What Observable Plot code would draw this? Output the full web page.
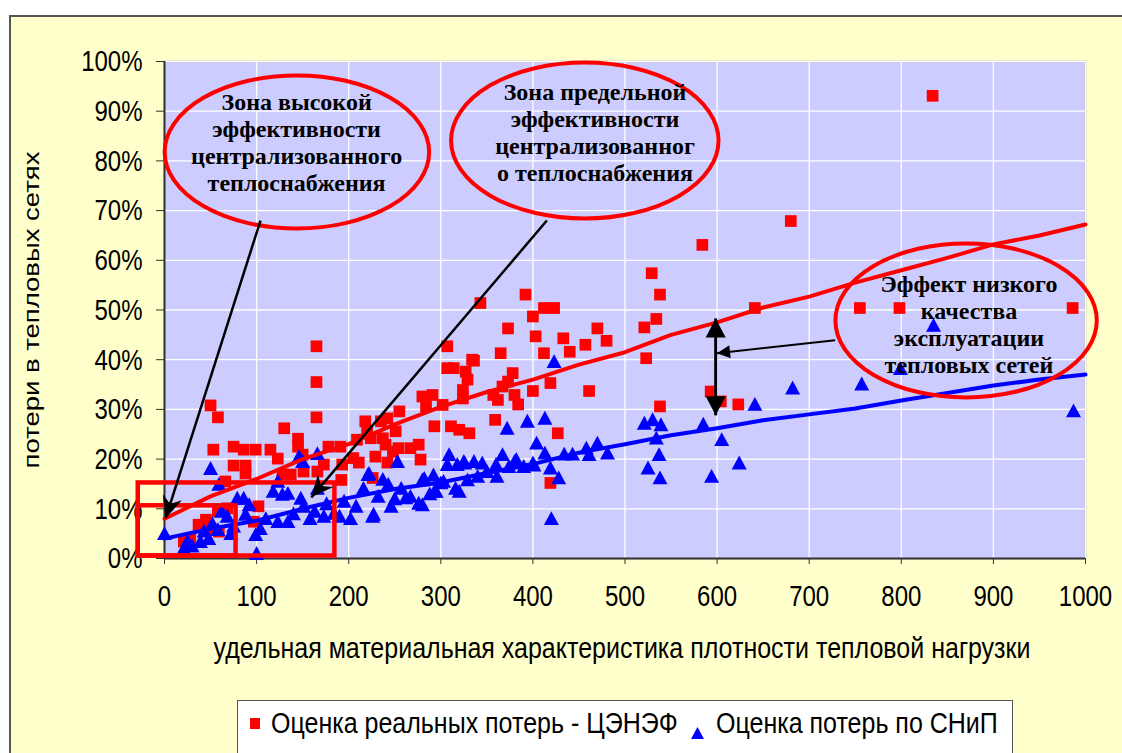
<!DOCTYPE html>
<html><head><meta charset="utf-8">
<script src="https://cdn.jsdelivr.net/npm/d3@7"></script>
<script src="https://cdn.jsdelivr.net/npm/@observablehq/plot@0.6"></script>
<style>
body{margin:0;background:#fff;width:1122px;height:753px;overflow:hidden;position:relative;font-family:"Liberation Sans",Arial,sans-serif;}
#frame{position:absolute;left:9px;top:15px;width:1130px;height:760px;background:#FFFFCC;border:2px solid #555;box-sizing:border-box;}
#chart{position:absolute;left:0;top:0;}
#ytitle{position:absolute;left:32px;top:310px;transform:translate(-50%,-50%) rotate(-90deg) scaleX(1.25);font-size:22px;white-space:nowrap;}
#xtitle{position:absolute;left:622px;top:648px;transform:translate(-50%,-50%) scaleY(1.2);font-size:25px;white-space:nowrap;}
#legend{position:absolute;left:237px;top:700px;width:776px;height:60px;background:#fff;border:1px solid #555;box-sizing:border-box;font-size:25px;}
#legend span{position:absolute;white-space:nowrap;}
#legend span.t{transform:scaleY(1.2);transform-origin:0 50%;}
</style></head>
<body>
<div id="frame"></div>
<div id="chart"></div>
<div id="ytitle"></div>
<div id="xtitle"></div>
<div id="legend">
  <span style="left:12px;top:17px;width:10px;height:11px;background:#f00"></span>
  <span class="t" id="lt1" style="left:33px;top:7px"></span>
  <span style="left:453px;top:16px"><svg width="13" height="13"><polygon points="6.5,0 13,12 0,12" fill="#00f"/></svg></span>
  <span class="t" id="lt2" style="left:478px;top:7px"></span>
</div>
<script>
// ---- data ----
const xTicks = [0,100,200,300,400,500,600,700,800,900,1000];
const yTicks = [0,10,20,30,40,50,60,70,80,90,100];

const realPoints = [
 [21,3.4],[28,4.0],[37,6.8],[45,7.8],[50,6.0],[59,5.4],[68,10.1],[97,7.4],[102,10.5],[58,9.5],
 [66,15.5],[75,18.7],[88,18.7],[88,17.1],[53,21.9],[75,22.5],[86,21.9],[99,21.9],[115,21.9],[123,20.1],
 [50,30.8],[58,28.4],[130,26.2],[145,24.1],[145,22.5],[150,20.9],[128,16.9],[137,16.9],[151,17.5],[166,17.5],
 [173,18.9],[165,42.7],[165,35.5],[165,28.4],[178,22.5],[191,22.5],[193,18.9],[192,15.8],
 [205,20.2],[209,23.9],[218,27.6],[224,24.2],[229,20.5],[235,27.6],[237,24.2],[240,22.9],[242,28.2],[251,25.6],
 [254,22.2],[255,29.6],[267,22.2],[276,22.9],[278,19.9],[226,16.2],[211,19.3],[220,25.7],[248,21.5],[242,19.3],
 [280,32.6],[291,32.9],[284,30.6],[293,26.6],
 [302,30.9],[311,26.6],[320,25.9],[331,25.2],[307,42.7],[307,38.3],[314,38.3],[334,40.0],[327,37.6],[329,36.0],
 [324,33.9],[324,32.2],[343,51.4],[336,39.8],[359,27.9],[365,41.3],[367,34.6],[373,35.6],[373,46.3],[378,37.3],
 [357,32.9],[362,31.9],[380,32.9],[384,31.0],[392,53.1],
 [400,48.7],[412,50.4],[423,50.4],[403,44.7],[412,41.3],[400,33.7],[419,35.3],[427,25.2],[419,15.2],[433,44.3],
 [440,41.6],[457,43.0],[461,33.7],[470,46.3],[480,43.8],[521,46.5],[523,40.3],[529,57.4],[534,48.2],[538,53.1],
 [538,30.6],[584,63.1],[593,33.6],[604,31.6],[623,31.0],[641,50.4],[680,67.9],[755,50.4],[798,50.4],[834,93.1],
 [986,50.4]
];

const snipPoints = [
 [0,5.0],[21,2.0],[25,3.5],[30,2.5],[39,3.4],[43,5.5],[48,4.0],[52,7.0],[50,18.1],[59,14.9],
 [58,5.8],[62,9.5],[68,8.5],[72,5.0],[75,6.5],[79,12.1],[86,12.1],[88,8.9],[92,10.8],[99,4.8],
 [100,1.0],[104,6.0],[110,8.0],
 [118,13.5],[123,15.5],[128,12.9],[134,13.1],[123,7.4],[134,7.4],[140,9.0],[148,12.1],[150,19.5],[146,20.5],
 [151,10.5],[158,8.0],[166,21.1],[166,14.1],[163,9.5],[173,8.5],[176,11.0],[184,9.1],[195,11.5],[190,8.5],[202,8.0],
 [208,10.5],[216,14.1],[221,16.9],[222,17.1],[227,8.9],[226,8.5],[237,15.9],[232,12.5],[243,14.9],[246,10.5],
 [253,19.5],[257,14.1],[250,12.0],[262,12.2],[267,12.5],[276,11.1],[280,15.8],[280,10.8],[282,16.1],[288,13.0],
 [292,16.8],[293,13.5],[295,13.5],
 [300,15.2],[303,15.5],[307,18.9],[309,20.9],[316,14.1],[318,18.9],[320,13.5],[325,19.5],[326,19.2],[329,15.8],
 [336,19.5],[340,16.5],[345,19.2],[350,17.5],[360,18.9],[361,16.5],[367,20.9],[372,26.2],[374,18.5],[382,19.9],
 [380,19.5],[394,27.6],[390,18.5],[400,19.2],
 [401,18.8],[404,23.2],[413,28.2],[413,21.2],[419,18.2],[420,8.0],[423,39.6],[428,16.2],[434,21.0],[443,21.0],
 [458,22.2],[461,20.9],[470,23.2],[481,21.2],
 [521,27.2],[530,27.9],[539,26.9],[534,24.2],[537,20.9],[525,18.2],[538,16.2],[585,27.0],[594,16.5],[605,23.9],
 [624,19.2],[641,31.0],[682,34.3],[757,35.1],[799,38.2],[835,46.9],[987,29.7]
];

const trendX    = [0,50,100,150,200,250,300,350,400,450,500,550,600,650,700,750,800,850,900,950,1000];
const trendReal = [8,12.5,16,20,23,27,30.5,33.5,36,39,41.5,45,47.5,50.5,52.7,55.5,58,60.5,63.2,65,67.2];
const trendSnip = [4,6,7.6,10,12.2,14,15.3,17.2,19,21.3,23,24.8,26.2,27.8,29,30.2,31.8,33.3,34.8,36,37];

const seriesNames = ["Оценка реальных потерь - ЦЭНЭФ","Оценка потерь по СНиП"];
const yTitle = "потери в тепловых сетях";
const xTitle = "удельная материальная характеристика плотности тепловой нагрузки";

// annotation texts
const zone1Lines = ["Зона высокой","эффективности","централизованного","теплоснабжения"];
const zone2Lines = ["Зона предельной","эффективности","централизованног","о теплоснабжения"];
const zone3Lines = ["Эффект низкого","качества","эксплуатации","тепловых сетей"];

document.getElementById("ytitle").textContent = yTitle;
document.getElementById("xtitle").textContent = xTitle;
document.getElementById("lt1").textContent = seriesNames[0];
document.getElementById("lt2").textContent = seriesNames[1];

// custom triangle, about as wide as tall like the spreadsheet marker
const triSymbol = {draw(ctx, size){ const h = Math.sqrt(size/Math.PI); ctx.moveTo(0,-h); ctx.lineTo(h,h*0.85); ctx.lineTo(-h,h*0.85); ctx.closePath(); }};

// ---- chart ----
const trend = trendX.map((x,i)=>({x, real:trendReal[i], snip:trendSnip[i]}));
const plot = Plot.plot({
  width:1122, height:620,
  marginLeft:164, marginRight:37, marginTop:61, marginBottom:62,
  style:{background:"transparent", fontFamily:"'Liberation Sans', Arial, sans-serif", fontSize:"24px", overflow:"visible", color:"#000"},
  x:{domain:[0,1000]},
  y:{domain:[0,100]},
  marks:[
    Plot.frame({fill:"#CCCCFF", stroke:"#8a8a8a", strokeWidth:1.5}),
    Plot.gridX(xTicks,{stroke:"#fff", strokeOpacity:1, strokeWidth:1.3}),
    Plot.gridY(yTicks,{stroke:"#fff", strokeOpacity:1, strokeWidth:1.3}),
    Plot.axisX(xTicks,{tickSize:6, tickPadding:19, fontSize:24, label:null, stroke:"#333", tickFormat:d=>String(d)}),
    Plot.axisY(yTicks,{tickSize:8, tickPadding:14, fontSize:24, label:null, stroke:"#333", tickFormat:d=>d+"%"}),
    Plot.ruleX([0],{stroke:"#333", strokeWidth:2}),
    Plot.ruleY([0],{stroke:"#333", strokeWidth:2}),
    Plot.dot(realPoints,{x:d=>d[0], y:d=>d[1], symbol:"square", r:6.6, fill:"#ff0000", stroke:null}),
    Plot.dot(snipPoints,{x:d=>d[0], y:d=>d[1], symbol:triSymbol, r:7.5, fill:"#0000ff", stroke:null}),
    Plot.line(trend,{x:"x", y:"real", stroke:"#ff0000", strokeWidth:4}),
    Plot.line(trend,{x:"x", y:"snip", stroke:"#0000ff", strokeWidth:4})
  ]
});
document.getElementById("chart").appendChild(plot);

// stretch tick labels vertically like the original (about each label's own anchor)
d3.select(plot).selectAll('g[aria-label="x-axis tick label"] text').each(function(){
  const bb = this.getBBox(); const ax = bb.x + bb.width/2, ay = bb.y;
  const tr = this.getAttribute("transform") || "";
  this.setAttribute("transform", `${tr} translate(${ax},${ay}) scale(1,1.25) translate(${-ax},${-ay})`);
});
d3.select(plot).selectAll('g[aria-label="y-axis tick label"] text').each(function(){
  const bb = this.getBBox(); const ax = bb.x + bb.width, ay = bb.y + bb.height/2;
  const tr = this.getAttribute("transform") || "";
  this.setAttribute("transform", `${tr} translate(${ax},${ay}) scale(1,1.25) translate(${-ax},${-ay})`);
});

// ---- annotations through the plot's scales ----
const sx = plot.scale("x"), sy = plot.scale("y");
const X = v => sx.apply(v), Y = p => sy.apply(p);
const svg = d3.select(plot);
const defs = svg.append("defs");
function marker(id, path, vb){
  defs.append("marker").attr("id",id).attr("markerUnits","userSpaceOnUse")
    .attr("viewBox",vb).attr("markerWidth",+vb.split(" ")[2]).attr("markerHeight",+vb.split(" ")[3])
    .attr("refX",0).attr("refY",0).attr("orient","auto-start-reverse")
    .append("path").attr("d",path).attr("fill","#000");
}
marker("barb","M0,0L-22,-10L-15,0L-22,10Z","-24 -12 26 24");
marker("tri","M0,0L-19,-10L-19,10Z","-20 -11 22 22");
marker("small","M0,0L-13,-6.5L-13,6.5Z","-14 -8 16 16");

const g = svg.append("g");
const rects = [[-28.5,185,15.2,0.5],[-28.5,77.7,10.6,0.5]];
rects.forEach(([x1,x2,y1,y2])=>{
  g.append("rect").attr("x",X(x1)).attr("y",Y(y1)).attr("width",X(x2)-X(x1)).attr("height",Y(y2)-Y(y1))
   .attr("fill","none").attr("stroke","#ff0000").attr("stroke-width",4.5);
});
const ellipses = [[144.3,81.7,143.6,15.4],[456.9,84.0,145.2,15.7],[870.9,47.8,141.9,15.5]];
ellipses.forEach(([cx,cy,rx,ry])=>{
  g.append("ellipse").attr("cx",X(cx)).attr("cy",Y(cy)).attr("rx",X(cx+rx)-X(cx)).attr("ry",Y(cy-ry)-Y(cy))
   .attr("fill","none").attr("stroke","#ff0000").attr("stroke-width",4);
});
const arrows = [
  {a:[104.8,67.9], b:[1.8,8.0], w:2.5, m:"barb"},
  {a:[415.7,67.9], b:[160,12.2], w:2.5, m:"barb"},
  {a:[728.7,43.8], b:[600.5,41.2], w:2, m:"small"}
];
arrows.forEach(o=>{
  g.append("line").attr("x1",X(o.a[0])).attr("y1",Y(o.a[1])).attr("x2",X(o.b[0])).attr("y2",Y(o.b[1]))
   .attr("stroke","#000").attr("stroke-width",o.w).attr("marker-end",`url(#${o.m})`);
});
g.append("line").attr("x1",X(599)).attr("y1",Y(48.2)).attr("x2",X(599)).attr("y2",Y(28.7))
 .attr("stroke","#000").attr("stroke-width",3)
 .attr("marker-start","url(#tri)").attr("marker-end","url(#tri)");
const texts = [[144,zone1Lines,90.1],[468,zone2Lines,92.1],[874,zone3Lines,53.6]];
texts.forEach(([cx,lines,top])=>{
  const t = g.append("text").attr("text-anchor","middle")
    .attr("font-family","'Liberation Serif','Times New Roman',serif").attr("font-weight","bold").attr("font-size",24);
  lines.forEach((s,i)=>{
    t.append("tspan").attr("x",X(cx)).attr("y",Y(top)+27*i).text(s);
  });
});
</script>
</body></html>
